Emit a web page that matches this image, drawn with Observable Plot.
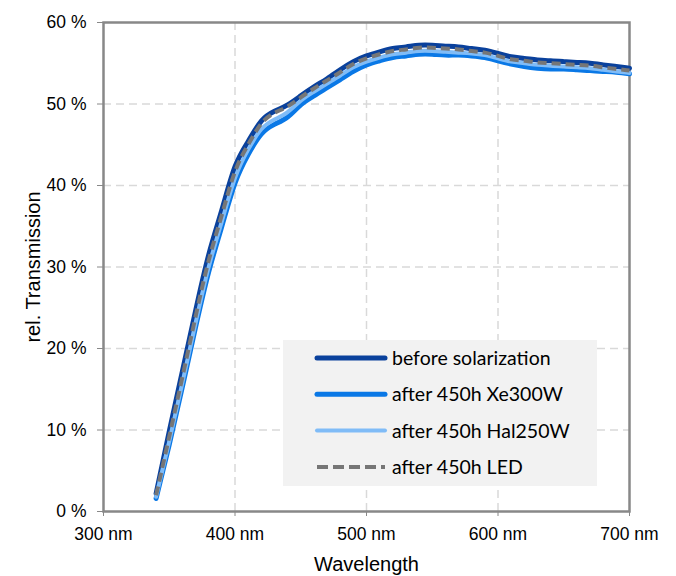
<!DOCTYPE html>
<html>
<head>
<meta charset="utf-8">
<script src="https://cdn.jsdelivr.net/npm/d3@7"></script>
<script src="https://cdn.jsdelivr.net/npm/@observablehq/plot@0.6"></script>
<style>
  html, body { margin: 0; padding: 0; background: #fff; }
  #wrap { position: relative; width: 676px; height: 576px; }
  #legend { position: absolute; left: 283px; top: 340px; width: 314px; height: 146px; background: #f2f2f2; }
</style>
</head>
<body>
<div id="wrap"><div id="legend"></div></div>
<script>
const wavelengths = [340,350,360,370,380,390,400,410,420,430,440,450,460,470,480,490,500,510,520,530,540,550,560,570,580,590,600,610,620,630,640,650,660,670,680,690,700];
const before = [2.2,9.8,17.2,24.6,31.5,37.0,42.3,45.4,47.9,49.1,49.9,51.0,52.1,53.1,54.2,55.2,55.9,56.4,56.8,57.0,57.2,57.2,57.1,57.0,56.8,56.6,56.2,55.8,55.6,55.4,55.3,55.2,55.1,55.0,54.8,54.6,54.4];
const xe300 = [1.6,8.2,15.3,22.6,29.4,35.0,40.3,43.8,46.3,47.5,48.4,49.9,51.0,52.0,53.0,54.0,54.8,55.3,55.7,55.9,56.1,56.1,56.0,56.0,55.9,55.7,55.3,54.9,54.6,54.4,54.3,54.3,54.2,54.1,54.0,53.9,53.7];
const hal250 = [1.8,8.6,15.8,23.1,30.0,35.6,40.9,44.4,46.9,48.1,49.0,50.4,51.5,52.5,53.5,54.5,55.2,55.7,56.1,56.3,56.5,56.5,56.4,56.3,56.2,56.0,55.6,55.2,55.0,54.8,54.7,54.6,54.5,54.4,54.2,54.0,53.8];
const led = [2.0,9.2,16.5,23.9,30.8,36.4,41.7,45.0,47.6,48.9,49.7,50.8,51.9,52.9,53.9,54.9,55.6,56.1,56.5,56.7,56.9,56.9,56.8,56.7,56.5,56.3,55.9,55.5,55.3,55.1,55.0,54.9,54.8,54.7,54.5,54.3,54.1];

const seriesNames = ["before solarization", "after 450h Xe300W", "after 450h Hal250W", "after 450h LED"];
const seriesValues = [before, xe300, hal250, led];
const seriesColors = ["#0a419c", "#0a78e6", "#80bcf7", "#767676"];
const seriesWidths = [5, 5, 4, 4];
const seriesDash = [null, null, null, "9,5"];

const xTicks = [300, 400, 500, 600, 700];
const yTicks = [0, 10, 20, 30, 40, 50, 60];

const lineMarks = seriesValues.map((vals, i) => {
  const data = wavelengths.map((w, j) => ({w, v: vals[j]}));
  return Plot.line(data, {
    x: "w", y: "v", curve: "natural",
    stroke: seriesColors[i], strokeWidth: seriesWidths[i],
    strokeDasharray: seriesDash[i] || undefined,
    strokeLinecap: seriesDash[i] ? "butt" : "round"
  });
});

const chart = Plot.plot({
  width: 676, height: 576,
  marginLeft: 103, marginRight: 47, marginTop: 22, marginBottom: 65,
  style: { fontFamily: "'Liberation Sans', Arial, sans-serif", fontSize: "17px", color: "#000", background: "transparent" },
  x: { domain: [300, 700] },
  y: { domain: [0, 60] },
  marks: [
    Plot.gridX([400, 500, 600], { stroke: "#d9d9d9", strokeOpacity: 1, strokeWidth: 1.5, strokeDasharray: "8,5" }),
    Plot.gridY([10, 20, 30, 40, 50], { stroke: "#d9d9d9", strokeOpacity: 1, strokeWidth: 1.5, strokeDasharray: "8,5" }),
    Plot.frame({ stroke: "#888888", strokeWidth: 2.5 }),
    Plot.axisX(xTicks, { tickFormat: d => d + " nm", tickSize: 5, tickPadding: 11, stroke: "#888888", fontSize: 17.5, label: null }),
    Plot.axisX({ ticks: [], label: "Wavelength", labelAnchor: "center", labelArrow: "none", labelOffset: 59, fontSize: 20 }),
    Plot.axisY(yTicks, { tickFormat: d => d + " %", tickSize: 6, tickPadding: 11, stroke: "#888888", fontSize: 17.5, label: null }),
    Plot.axisY({ ticks: [], label: "rel. Transmission", labelAnchor: "center", labelArrow: "none", labelOffset: 78, fontSize: 20 }),
    ...lineMarks
  ]
});
document.getElementById("wrap").prepend(chart);

// legend
const lg = d3.select("#legend").append("svg").attr("width", 314).attr("height", 146);
seriesNames.forEach((name, i) => {
  const y = 18 + i * 36.3;
  lg.append("line").attr("x1", 34).attr("x2", 102).attr("y1", y).attr("y2", y)
    .attr("stroke", seriesColors[i]).attr("stroke-width", seriesWidths[i])
    .attr("stroke-linecap", seriesDash[i] ? "butt" : "round")
    .attr("stroke-dasharray", seriesDash[i] ? "11,5" : null);
  lg.append("text").attr("x", 109).attr("y", y).attr("dy", "0.36em")
    .attr("font-family", "Lato, 'Open Sans', sans-serif").attr("font-size", 19.5).attr("fill", "#000")
    .text(name);
});
</script>
</body>
</html>
